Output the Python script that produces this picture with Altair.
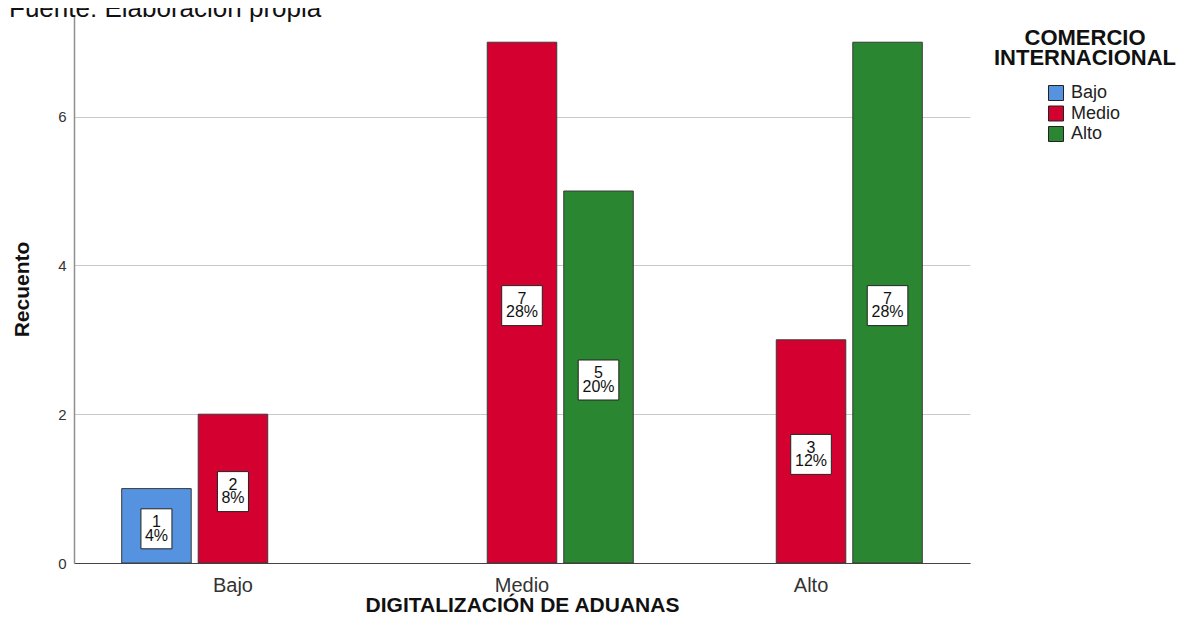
import altair as alt
import pandas as pd

# ---- data ----
categories = ["Bajo", "Medio", "Alto"]
digitalizacion = ["Bajo", "Bajo", "Medio", "Medio", "Alto", "Alto"]
comercio = ["Bajo", "Medio", "Medio", "Alto", "Medio", "Alto"]
recuento = [1, 2, 7, 5, 3, 7]
porcentaje = ["4%", "8%", "28%", "20%", "12%", "28%"]
y_ticks = [0, 2, 4, 6]
source_note = ["Fuente: Elaboración propia"]
legend_title = ["COMERCIO\nINTERNACIONAL"]

colors = ["#5593E0", "#D4002F", "#2A8630"]
FONT = "Liberation Sans"

df = pd.DataFrame({
    "digital": digitalizacion,
    "comercio": comercio,
    "count": recuento,
    "pct": porcentaje,
})

x_enc = alt.X(
    "digital:N",
    sort=categories,
    scale=alt.Scale(domain=categories, paddingInner=0.23, paddingOuter=0.165),
    axis=alt.Axis(
        title="DIGITALIZACIÓN DE ADUANAS", labelAngle=0, ticks=False, grid=False,
        domainColor="#444444", domainWidth=1, labelFontSize=20, labelColor="#333333",
        labelPadding=12, titleFontSize=21, titleFontWeight="bold", titleColor="#111111",
        titlePadding=-1, labelFont=FONT, titleFont=FONT,
    ),
)
xo_enc = alt.XOffset(
    "comercio:N",
    sort=categories,
    scale=alt.Scale(domain=categories, paddingInner=0.0915, paddingOuter=0),
)
y_scale = alt.Scale(domain=[0, 7.366], nice=False, zero=True)

base = alt.Chart(df).encode(x=x_enc, xOffset=xo_enc)

bars = base.mark_bar(stroke="#3a3a3a", strokeWidth=1, opacity=1).encode(
    y=alt.Y(
        "count:Q",
        scale=y_scale,
        axis=alt.Axis(
            title="Recuento", values=y_ticks, format="d", grid=True, gridColor="#cacaca",
            gridWidth=1, ticks=False, domainColor="#8f8f8f", domainWidth=1.5,
            labelFontSize=15, labelColor="#333333", labelPadding=8,
            titleFontSize=21, titleFontWeight="bold", titleColor="#111111",
            titlePadding=25, labelFont=FONT, titleFont=FONT,
        ),
    ),
    color=alt.Color(
        "comercio:N",
        sort=categories,
        scale=alt.Scale(domain=categories, range=colors),
        legend=alt.Legend(
            title=None, orient="none", legendX=973, legendY=69,
            symbolType="square", symbolSize=225, symbolStrokeColor="#222222",
            symbolStrokeWidth=1, symbolOpacity=1, labelFontSize=18,
            labelFont=FONT, labelColor="#222222", rowPadding=0.5, labelOffset=6,
        ),
    ),
)

short_box = "M-1.55,-1.7H1.55V2.3H-1.55Z"
long_box = "M-2.03,-1.7H2.03V2.3H-2.03Z"

with_mid = base.transform_calculate(mid="datum.count / 2", plen="length(datum.pct)")

boxes = with_mid.mark_point(
    filled=True, fill="white", stroke="#222222", strokeWidth=1, opacity=1, size=400
).encode(
    y=alt.Y("mid:Q", scale=y_scale),
    shape=alt.Shape("plen:N", scale=alt.Scale(domain=[2, 3], range=[short_box, long_box]), legend=None),
)

count_txt = with_mid.mark_text(
    font=FONT, fontSize=16, baseline="alphabetic", align="center", dy=1.3, color="#111111",
).encode(y=alt.Y("mid:Q", scale=y_scale), text="count:Q")

pct_txt = with_mid.mark_text(
    font=FONT, fontSize=16, baseline="alphabetic", align="center", dy=14.7, color="#111111",
).encode(y=alt.Y("mid:Q", scale=y_scale), text="pct:N")

note = alt.Chart(pd.DataFrame({"t": source_note})).mark_text(
    font=FONT, fontSize=26, align="left", baseline="alphabetic", color="#111111"
).encode(x=alt.value(-65), y=alt.value(2), text="t:N")

ltitle = alt.Chart(pd.DataFrame({"t": legend_title})).mark_text(
    font=FONT, fontSize=22, fontWeight="bold", align="center", baseline="alphabetic",
    lineBreak="\n", lineHeight=20, color="#111111"
).encode(x=alt.value(1011), y=alt.value(30), text="t:N")

chart = alt.layer(bars, boxes, count_txt, pct_txt, note, ltitle).properties(
    width=896, height=548,
    autosize=alt.AutoSizeParams(type="none"),
    padding={"left": 66, "top": 7, "right": 212, "bottom": 60},
).configure_view(strokeWidth=0)

chart.save("out.html", embed_options={"renderer": "svg", "actions": False})
